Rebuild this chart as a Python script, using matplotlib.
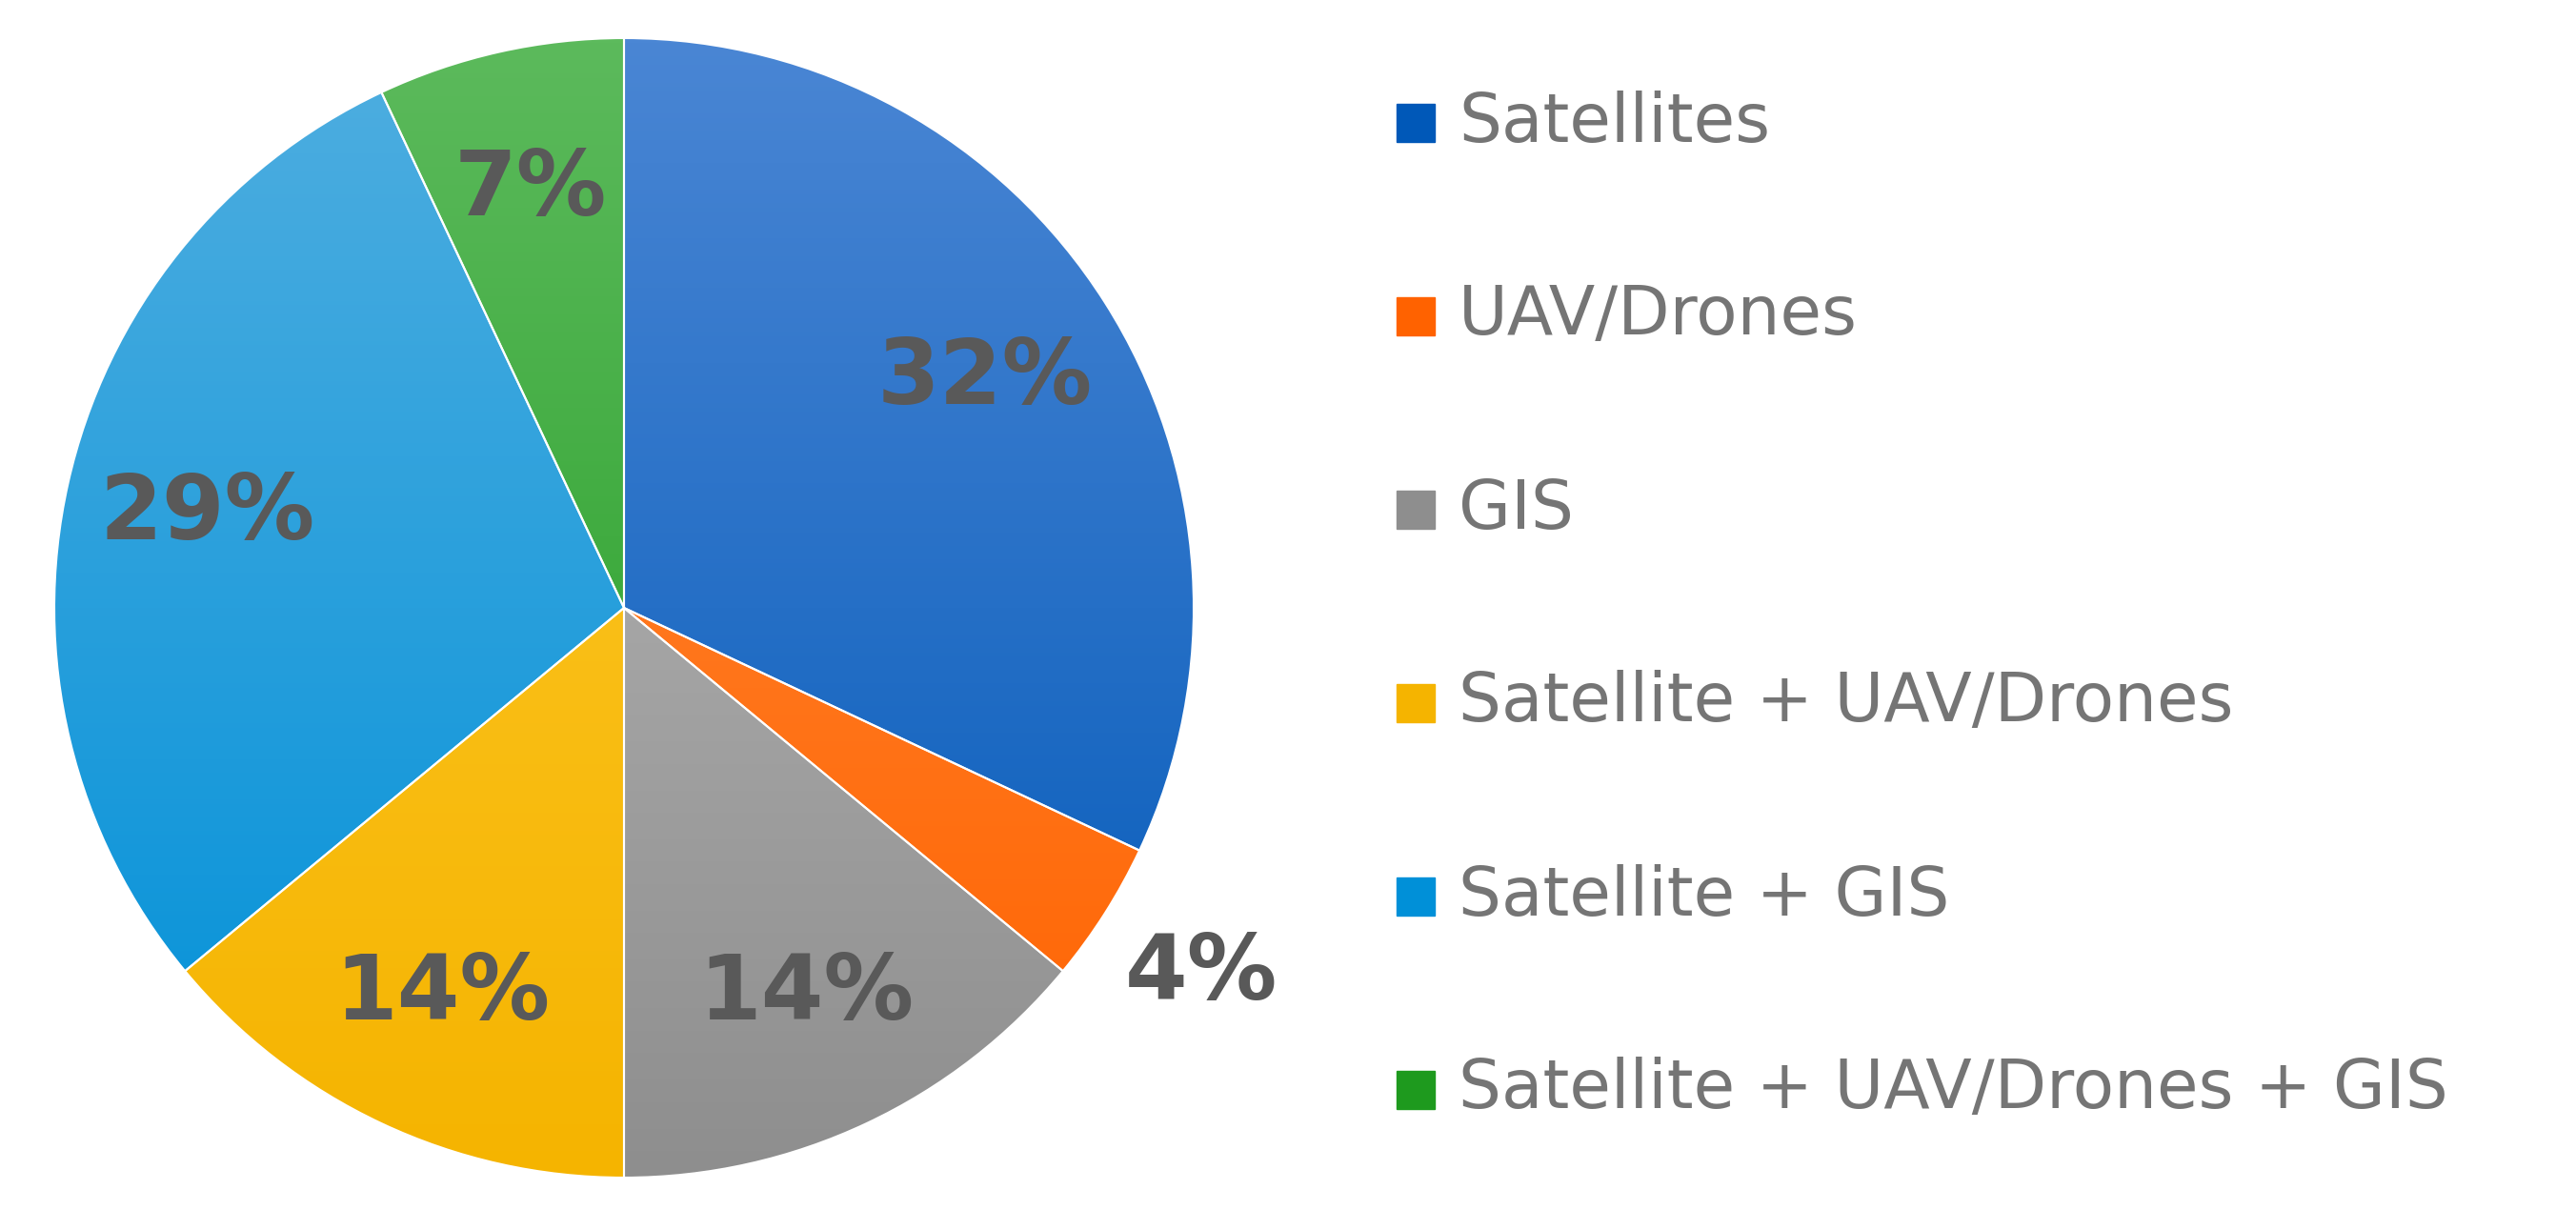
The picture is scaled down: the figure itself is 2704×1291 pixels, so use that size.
import numpy as np
import matplotlib
matplotlib.use("Agg")
import matplotlib.pyplot as plt
from matplotlib.patches import Rectangle
from matplotlib.colors import LinearSegmentedColormap

labels = ["Satellites", "UAV/Drones", "GIS", "Satellite + UAV/Drones",
          "Satellite + GIS", "Satellite + UAV/Drones + GIS"]
values = [32, 4, 14, 14, 29, 7]
light = ["#4A86D4", "#FF8C3A", "#BDBDBD", "#FFCA2E", "#4FAEE0", "#5CBA5C"]
dark = ["#0058B8", "#FF6200", "#8E8E8E", "#F5B400", "#0090D8", "#1E9A1E"]

W, H = 2704, 1291
fig = plt.figure(figsize=(W / 100, H / 100), dpi=100)
cx, cy, r = 655, 638, 598
ax = fig.add_axes([(cx - r) / W, (H - cy - r) / H, 2 * r / W, 2 * r / H])

wedges, texts, autotexts = ax.pie(
    values, colors=dark, startangle=90, counterclock=False, radius=1,
    autopct="%d%%", pctdistance=0.75,
    textprops=dict(fontsize=68, fontweight="bold", color="#595959",
                   family="DejaVu Sans"))
ax.set_xlim(-1, 1); ax.set_ylim(-1, 1)

# vertical gradient fill, clipped to each wedge
grad = np.linspace(0, 1, 256).reshape(-1, 1)
for w, c0, c1 in zip(wedges, light, dark):
    cmap = LinearSegmentedColormap.from_list("g", [c0, c1])
    im = ax.imshow(grad, cmap=cmap, extent=(-1, 1, -1, 1), aspect="auto", zorder=1)
    im.set_clip_path(w)
    w.set_facecolor("none"); w.set_edgecolor("white"); w.set_linewidth(1.5); w.set_zorder(2)
for t in autotexts:
    t.set_zorder(3)

# small slice label sits outside
ang = np.deg2rad(90 - (values[0] + values[1] / 2) * 3.6)
autotexts[1].set_position((1.2 * np.cos(ang), 1.2 * np.sin(ang)))
ax.axis("off")

# legend
for i, (lab, c0, c1) in enumerate(zip(labels, light, dark)):
    yc = H - (129 + 203 * i)
    fig.patches.append(Rectangle((1466 / W, (yc - 20) / H), 40 / W, 40 / H,
                                 transform=fig.transFigure, color=c1))
    fig.text(1531 / W, yc / H, lab, fontsize=51, color="#757575",
             va="center", ha="left", family="DejaVu Sans")

fig.savefig("out.png", dpi=100)
